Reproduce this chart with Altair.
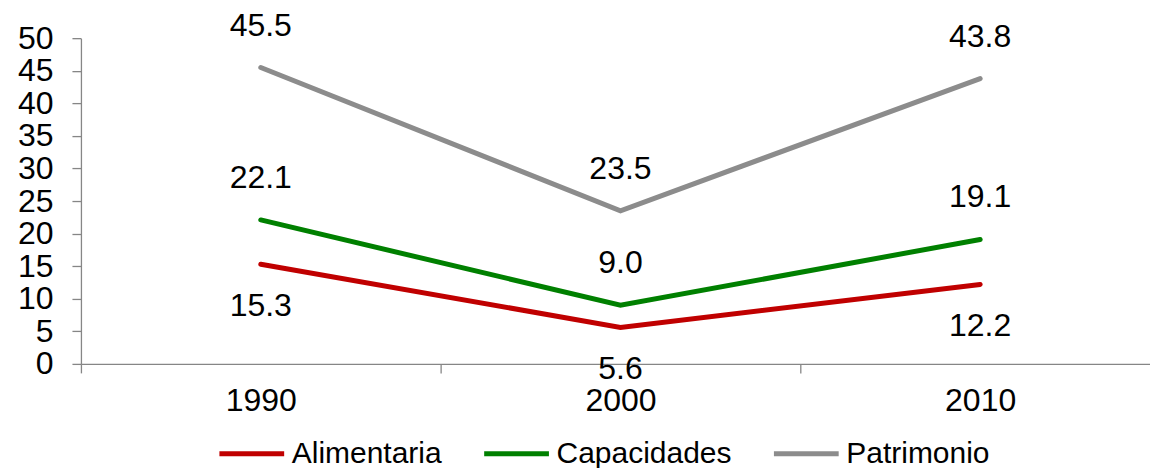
import altair as alt
import pandas as pd

years = ["1990", "2000", "2010"]
series_names = ["Alimentaria", "Capacidades", "Patrimonio"]
alimentaria = [15.3, 5.6, 12.2]
capacidades = [22.1, 9.0, 19.1]
patrimonio = [45.5, 23.5, 43.8]
colors = ["#C00000", "#008000", "#8C8C8C"]
label_side = {"Alimentaria": "below", "Capacidades": "above", "Patrimonio": "above"}

rows = []
for name, vals in zip(series_names, [alimentaria, capacidades, patrimonio]):
    for y, v in zip(years, vals):
        rows.append({"year": y, "serie": name, "value": v, "label": f"{v:.1f}",
                     "side": label_side[name]})
df = pd.DataFrame(rows)

FONT = "Liberation Sans"

x_enc = alt.X(
    "year:N",
    sort=years,
    scale=alt.Scale(type="band", paddingInner=0, paddingOuter=0, range=[0, 1080]),
    axis=alt.Axis(
        title=None, labelAngle=0, tickBand="extent", labelFontSize=32,
        labelFont=FONT, labelColor="#000000", domainColor="#868686",
        tickColor="#868686", tickSize=9, labelPadding=13, grid=False,
        domainWidth=1.3, tickWidth=1.3, labelOverlap=False,
    ),
)
y_enc = alt.Y(
    "value:Q",
    scale=alt.Scale(domain=[0, 50], nice=False),
    axis=alt.Axis(
        title=None, values=list(range(0, 51, 5)), labelFontSize=32,
        labelFont=FONT, labelColor="#000000", domainColor="#868686",
        tickColor="#868686", tickSize=9, labelPadding=19, grid=False,
        domainWidth=1.3, tickWidth=1.3, labelOverlap=False, labelBound=False,
    ),
)
color_enc = alt.Color(
    "serie:N",
    sort=series_names,
    scale=alt.Scale(domain=series_names, range=colors),
    legend=alt.Legend(
        title=None, orient="none", direction="horizontal",
        legendX=136, legendY=381, symbolType="stroke", symbolSize=4200,
        symbolStrokeWidth=5, labelFontSize=30, labelFont=FONT,
        labelColor="#000000", columnPadding=31, labelOffset=5, padding=0,
        symbolOffset=0, labelLimit=0,
    ),
)

base = alt.Chart(df).encode(x=x_enc, y=y_enc)

lines = base.mark_line(strokeWidth=5, strokeCap="round", strokeJoin="miter").encode(
    color=color_enc
)

above = base.mark_text(
    fontSize=32, font=FONT, color="#000000", dy=-42, baseline="middle"
).encode(text="label:N").transform_filter(alt.datum.side == "above")

below = base.mark_text(
    fontSize=32, font=FONT, color="#000000", dy=42, baseline="middle"
).encode(text="label:N").transform_filter(alt.datum.side == "below")

chart = alt.layer(lines, above, below).properties(
    width=1070, height=326,
    padding={"left": 73, "top": 30, "right": 0, "bottom": 104},
    autosize=alt.AutoSizeParams(type="none"),
    background="white",
).configure_view(stroke=None)

chart.save("out.html", embed_options={"renderer": "svg", "actions": False})
